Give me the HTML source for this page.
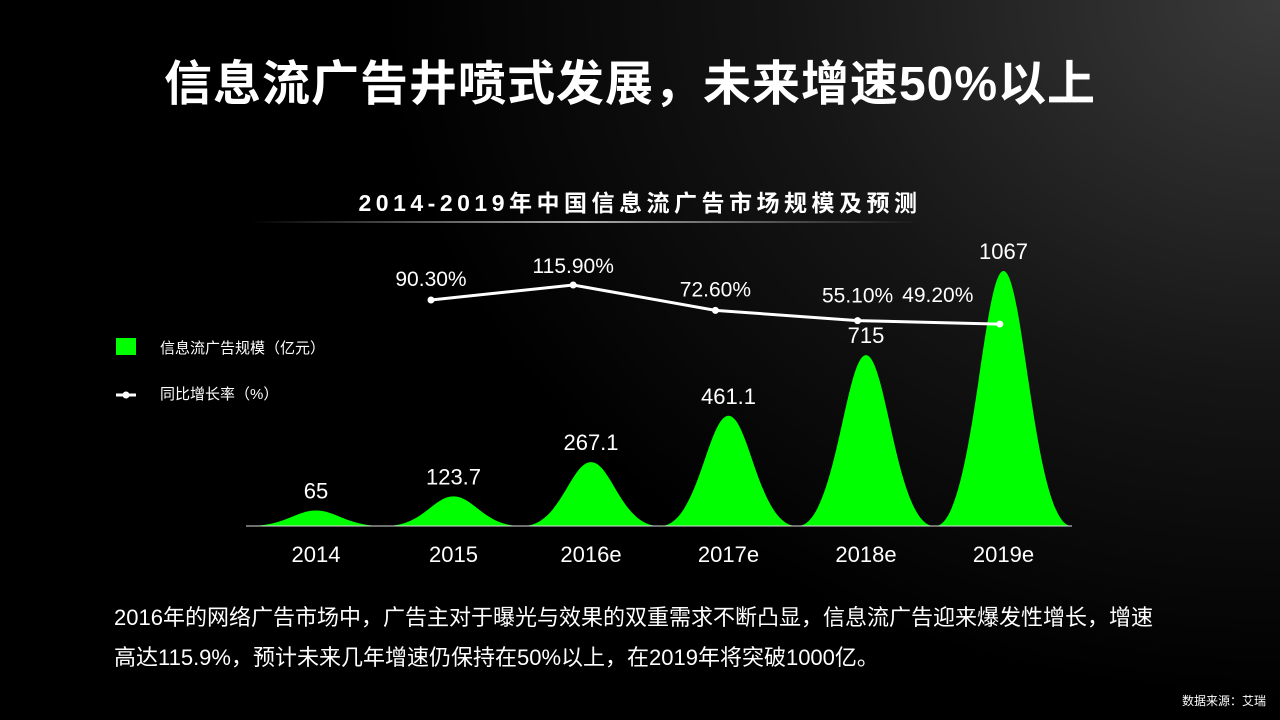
<!DOCTYPE html>
<html><head><meta charset="utf-8">
<style>
html,body{margin:0;padding:0}
body{width:1280px;height:720px;overflow:hidden;position:relative;
background:radial-gradient(ellipse 900px 700px at 1280px 0px,#3a3a3a 0%,#151515 55%,#000 100%);
font-family:"Liberation Sans","Noto Sans CJK SC",sans-serif;color:#fff}
.abs{position:absolute}
#title{left:0;width:1280px;top:44px;text-align:center;font-size:48px;font-weight:bold;letter-spacing:1px;padding-right:20px;box-sizing:border-box}
#ctitle{left:0;width:1280px;top:184px;text-align:center;font-size:23px;font-weight:bold;letter-spacing:4.5px;padding-right:0}
#uline{left:250px;top:221px;width:670px;height:2px;background:linear-gradient(90deg,rgba(255,255,255,0),#aaa 50%,rgba(255,255,255,0))}
#desc{left:114px;top:598px;width:1045px;font-size:22px;line-height:40px}
#src{right:14px;top:692px;font-size:12px}
</style></head><body>
<div id="title" class="abs">信息流广告井喷式发展，未来增速50%以上</div>
<div id="ctitle" class="abs">2014-2019年中国信息流广告市场规模及预测</div>
<div id="uline" class="abs"></div>
<svg class="abs" style="left:0;top:0" width="1280" height="720" id="chart"></svg>
<div id="desc" class="abs">2016年的网络广告市场中，广告主对于曝光与效果的双重需求不断凸显，信息流广告迎来爆发性增长，增速高达115.9%，预计未来几年增速仍保持在50%以上，在2019年将突破1000亿。</div>
<div id="src" class="abs">数据来源：艾瑞</div>
<script>
const categories=["2014","2015","2016e","2017e","2018e","2019e"];
const sizeValues=[65,123.7,267.1,461.1,715,1067];
const sizeLabels=["65","123.7","267.1","461.1","715","1067"];
const growthValues=[90.3,115.9,72.6,55.1,49.2];
const growthLabels=["90.30%","115.90%","72.60%","55.10%","49.20%"];
const NS="http://www.w3.org/2000/svg";
const svg=document.getElementById('chart');
const baseY=526;
function xCat(i){return 316+i*137.5;}
function yVal(v){return baseY-v*0.239;}
function xG(i){return 431+i*142.2;}
function yG(v){return 352.9-v*0.586;}
function mk(t,a){const e=document.createElementNS(NS,t);for(const k in a)e.setAttribute(k,a[k]);svg.appendChild(e);return e;}
sizeValues.forEach((v,i)=>{
  const cx=xCat(i),hw=68,top=yVal(v);
  const d=`M${cx-hw},${baseY} C${cx-hw*0.45},${baseY} ${cx-hw*0.3},${top} ${cx},${top} C${cx+hw*0.3},${top} ${cx+hw*0.45},${baseY} ${cx+hw},${baseY} Z`;
  const p=mk('path',{d:d,fill:'#00ff00'});
  
  
  const t=mk('text',{x:cx,y:top-12,'text-anchor':'middle','font-size':22,fill:'#fff','font-family':'Liberation Sans,sans-serif'});
  t.textContent=sizeLabels[i];
  
  
  const c=mk('text',{x:cx,y:562,'text-anchor':'middle','font-size':22,fill:'#fff','font-family':'Liberation Sans,sans-serif'});
  c.textContent=categories[i];
  
  
});
const ax=mk('line',{x1:246,y1:baseY,x2:1072,y2:baseY,stroke:'#ddd','stroke-width':1});


const pts=growthValues.map((v,i)=>xG(i)+','+yG(v)).join(' ');
const pl=mk('polyline',{points:pts,fill:'none',stroke:'#fff','stroke-width':3});


const offs=[[0,-14],[0,-12],[0,-14],[0,-18],[-62,-22]];
growthValues.forEach((v,i)=>{
  const c=mk('circle',{cx:xG(i),cy:yG(v),r:3.5,fill:'#fff'});
  
  
  const t=mk('text',{x:xG(i)+offs[i][0],y:yG(v)+offs[i][1],'text-anchor':'middle','font-size':21,fill:'#fff','font-family':'Liberation Sans,sans-serif'});
  t.textContent=growthLabels[i];
  
  
});
const l1=mk('rect',{x:116,y:338,width:20,height:17,fill:'#00ff00'});


const lt1=mk('text',{x:160,y:353,'font-size':15,fill:'#fff','font-family':'Liberation Sans,Noto Sans CJK SC,sans-serif'});
lt1.textContent='信息流广告规模（亿元）';


const l2=mk('line',{x1:116,y1:395,x2:136,y2:395,stroke:'#fff','stroke-width':3});


const l2c=mk('circle',{cx:126,cy:395,r:3.5,fill:'#fff'});


const lt2=mk('text',{x:160,y:399,'font-size':15,fill:'#fff','font-family':'Liberation Sans,Noto Sans CJK SC,sans-serif'});
lt2.textContent='同比增长率（%）';


</script>
</body></html>
